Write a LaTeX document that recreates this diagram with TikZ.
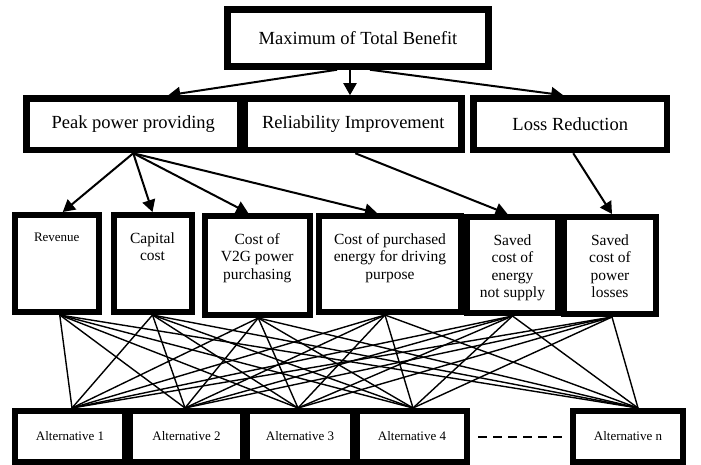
\documentclass[tikz,border=0pt]{standalone}
\usepackage{fontspec}
\setmainfont{Liberation Serif}
\usetikzlibrary{arrows.meta}
\newcommand{\crittext}[3]{\parbox[c][#2pt][t]{#1pt}{\centering\vspace*{16pt}\strut #3}}
\begin{document}
\begin{tikzpicture}[x=1pt,y=-1pt,
        goal/.style={draw,line width=6.5pt,inner sep=0pt,font=\fontsize{18.5}{21}\selectfont},
        crit/.style={draw,line width=6pt,inner sep=0pt,font=\fontsize{15.5}{17.5}\selectfont},
        alt/.style={draw,line width=6pt,inner sep=0pt,minimum height=51pt,font=\fontsize{13}{15}\selectfont},
        arr/.style={line width=2pt,-{Triangle[length=12pt,width=13pt]}},
        link/.style={line width=1.4pt}]
        \useasboundingbox (0,0) rectangle (701,465);
        \node[goal,minimum width=261pt,minimum height=57pt] (max) at (358,38) {Maximum of Total Benefit};
        \node[goal,minimum width=213.5pt,minimum height=51.5pt] (peak) at (133.25,124.25) {Peak power providing};
        \node[goal,minimum width=216.5pt,minimum height=51.5pt] (rel) at (353.25,124.25) {Reliability Improvement};
        \node[goal,minimum width=193.5pt,minimum height=51.5pt] (loss) at (570.25,124.25) {Loss Reduction};
        \node[crit,font=\fontsize{13}{15.6}\selectfont] (rev) at (56.75,263.5) {\crittext{83.5}{97}{Revenue}};
        \node[crit] (cap) at (152.5,263.5) {\crittext{78}{97}{Capital\\cost}};
        \node[crit] (v2g) at (257.25,265.5) {\crittext{104.5}{99}{Cost of\\V2G power\\purchasing}};
        \node[crit] (pur) at (390,264) {\crittext{142}{96}{Cost of purchased\\energy for driving\\purpose}};
        \node[crit] (sen) at (512.5,265) {\crittext{91}{96}{Saved\\cost of\\energy\\not supply}};
        \node[crit] (slo) at (610,265.5) {\crittext{92}{97}{Saved\\cost of\\power\\losses}};
        \node[alt,minimum width=110pt] (alt1) at (70,436.5) {Alternative 1};
        \node[alt,minimum width=113pt] (alt2) at (186.5,436.5) {Alternative 2};
        \node[alt,minimum width=106pt] (alt3) at (300,436.5) {Alternative 3};
        \node[alt,minimum width=110pt] (alt4) at (412,436.5) {Alternative 4};
        \node[alt,minimum width=110pt] (altn) at (628,436.5) {Alternative n};
        \draw[arr] ([xshift=-21pt]max.south) -- ([xshift=35pt]peak.north);
        \draw[arr] ([xshift=-8pt]max.south) -- ([xshift=-3.25pt]rel.north);
        \draw[arr] ([xshift=12pt]max.south) -- ([xshift=-7pt]loss.north);
        \draw[arr] (peak.south) -- ([xshift=6pt]rev.north);
        \draw[arr] (peak.south) -- (cap.north);
        \draw[arr] (peak.south) -- ([xshift=-9pt]v2g.north);
        \draw[arr] (peak.south) -- ([xshift=-13pt]pur.north);
        \draw[arr] ([xshift=2pt]rel.south) -- ([xshift=-5pt]sen.north);
        \draw[arr] ([xshift=3pt]loss.south) -- ([xshift=2pt]slo.north);
        \foreach \n/\s in {rev/3,cap/0,v2g/1,pur/-5,sen/0,slo/2}
            \coordinate (\n-b) at ([xshift=\s pt]\n.south);
        \foreach \n/\s in {alt1/2,alt2/-1.5,alt3/-2,alt4/1,altn/10}
            \coordinate (\n-t) at ([xshift=\s pt]\n.north);
        \foreach \c in {rev,cap,v2g,pur,sen,slo}
            \foreach \a in {alt1,alt2,alt3,alt4,altn}
                \draw[link] (\c-b) -- (\a-t);
        \draw[line width=2pt,dash pattern=on 9pt off 6pt] ([xshift=8pt]alt4.east) -- ([xshift=-6pt]altn.west);
    \end{tikzpicture}
\end{document}
